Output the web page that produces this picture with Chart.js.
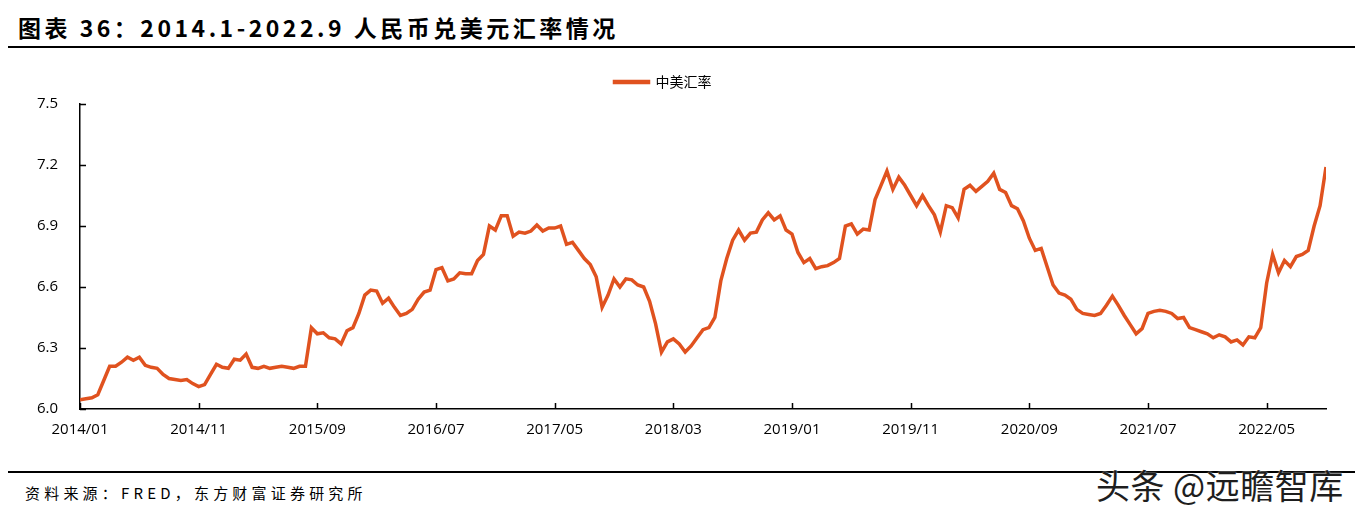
<!DOCTYPE html>
<html>
<head>
<meta charset="utf-8">
<title>人民币兑美元汇率</title>
<script src="https://cdn.jsdelivr.net/npm/chart.js@4.4.1/dist/chart.umd.min.js"></script>
<style>
  body { margin: 0; background: #fff; }
  #page { position: relative; width: 1363px; height: 515px; overflow: hidden; background: #fff; font-family: "Noto Sans CJK SC", sans-serif; color: #000; }
  #title { position: absolute; left: 18px; top: 10px; font-size: 23px; font-weight: bold; letter-spacing: 3.5px; white-space: nowrap; }
  .rule { position: absolute; left: 8px; width: 1347px; height: 2px; background: #000; }
  #box { position: absolute; left: 0; top: 65px; width: 1363px; height: 395px; }
  #source { position: absolute; left: 25px; top: 482px; font-size: 15px; letter-spacing: 4.2px; white-space: nowrap; }
  #mark { position: absolute; left: 1096px; top: 460px; font-size: 34px; letter-spacing: 0.5px; color: #1e1e1e; white-space: nowrap; text-shadow: 0 0 2px #fff; }
</style>
</head>
<body>
<div id="page">
  <div id="title">图表 36：2014.1-2022.9 人民币兑美元汇率情况</div>
  <div class="rule" style="top:46px"></div>
  <div id="box"><canvas id="chart"></canvas></div>
  <div class="rule" style="top:471px"></div>
  <div id="source">资料来源：FRED，东方财富证券研究所</div>
  <div id="mark">头条 @远瞻智库</div>
</div>
<script>
// half-month readings, 2014/01 .. 2022/09
const rate2014 = [6.045, 6.05, 6.055, 6.07, 6.14, 6.21, 6.21, 6.23, 6.255, 6.24, 6.255, 6.215,
  6.205, 6.20, 6.17, 6.15, 6.145, 6.14, 6.145, 6.125, 6.11, 6.12, 6.17, 6.22];
const rate2015 = [6.205, 6.20, 6.245, 6.24, 6.27, 6.205, 6.20, 6.21, 6.20, 6.205, 6.21, 6.205,
  6.20, 6.21, 6.21, 6.40, 6.37, 6.375, 6.35, 6.345, 6.32, 6.385, 6.40, 6.47];
const rate2016 = [6.56, 6.585, 6.58, 6.52, 6.545, 6.50, 6.46, 6.47, 6.49, 6.54, 6.575, 6.585,
  6.685, 6.695, 6.63, 6.64, 6.67, 6.665, 6.665, 6.73, 6.76, 6.90, 6.88, 6.95];
const rate2017 = [6.95, 6.85, 6.87, 6.865, 6.875, 6.905, 6.875, 6.89, 6.89, 6.90, 6.81, 6.82,
  6.78, 6.74, 6.71, 6.65, 6.50, 6.56, 6.64, 6.60, 6.64, 6.635, 6.61, 6.60];
const rate2018 = [6.53, 6.42, 6.28, 6.33, 6.345, 6.32, 6.28, 6.31, 6.35, 6.39, 6.40, 6.45,
  6.63, 6.74, 6.83, 6.88, 6.83, 6.865, 6.87, 6.93, 6.965, 6.93, 6.95, 6.88];
const rate2019 = [6.86, 6.77, 6.72, 6.74, 6.69, 6.70, 6.705, 6.72, 6.74, 6.90, 6.91, 6.86,
  6.885, 6.88, 7.03, 7.10, 7.17, 7.08, 7.14, 7.10, 7.05, 7.00, 7.05, 7.00];
const rate2020 = [6.955, 6.87, 7.00, 6.99, 6.94, 7.08, 7.10, 7.07, 7.095, 7.12, 7.16, 7.08,
  7.065, 7.00, 6.985, 6.925, 6.84, 6.78, 6.79, 6.70, 6.61, 6.57, 6.56, 6.54];
const rate2021 = [6.49, 6.47, 6.465, 6.46, 6.47, 6.51, 6.555, 6.51, 6.46, 6.415, 6.37, 6.395,
  6.47, 6.48, 6.485, 6.48, 6.47, 6.445, 6.45, 6.40, 6.39, 6.38, 6.37, 6.35];
const rate2022 = [6.365, 6.355, 6.33, 6.34, 6.315, 6.355, 6.35, 6.40, 6.62, 6.76,
  6.67, 6.73, 6.70, 6.75, 6.76, 6.78, 6.90, 7.00, 7.19];

const rate = [].concat(rate2014, rate2015, rate2016, rate2017, rate2018, rate2019, rate2020, rate2021, rate2022);
const tickLabels = ['2014/01', '2014/11', '2015/09', '2016/07', '2017/05', '2018/03', '2019/01', '2019/11', '2020/09', '2021/07', '2022/05'];
const yTicks = [6.0, 6.3, 6.6, 6.9, 7.2, 7.5];

// x = months since 2014/01, two readings per month
const points = rate.map((v, i) => ({ x: i / 2, y: v }));

const lineColor = '#E0521F';
const axisFont = { family: '"Open Sans", "Noto Sans", sans-serif', size: 15 };

// excel style ticks pointing into the plot
const innerTicks = {
  id: 'innerTicks',
  afterDraw(chart) {
    const { ctx, chartArea, scales: { x, y } } = chart;
    ctx.save();
    ctx.strokeStyle = '#000';
    ctx.lineWidth = 1.5;
    ctx.beginPath();
    x.ticks.forEach(t => {
      const px = Math.round(x.getPixelForValue(t.value)) + 0.5;
      ctx.moveTo(px, chartArea.bottom);
      ctx.lineTo(px, chartArea.bottom - 6);
    });
    y.ticks.forEach(t => {
      const py = Math.round(y.getPixelForValue(t.value)) + 0.5;
      ctx.moveTo(chartArea.left, py);
      ctx.lineTo(chartArea.left + 6, py);
    });
    ctx.stroke();
    ctx.restore();
  }
};

// a bit more room under the legend
const legendGap = {
  id: 'legendGap',
  beforeInit(chart) {
    const fit = chart.legend.fit;
    chart.legend.fit = function () {
      fit.bind(chart.legend)();
      this.height += 5;
    };
  }
};

const chart = document.querySelector('#chart').getContext('2d');

new Chart(chart, {
  type: 'line',
  data: {
    datasets: [{
      label: '中美汇率',
      data: points,
      borderColor: lineColor,
      backgroundColor: lineColor,
      borderWidth: 3.5,
      pointRadius: 0,
      tension: 0
    }]
  },
  options: {
    responsive: true,
    maintainAspectRatio: false,
    animation: false,
    layout: { padding: { left: 0, right: 37, top: 0, bottom: 0 } },
    plugins: {
      legend: {
        position: 'top',
        labels: {
          boxWidth: 34,
          boxHeight: 1,
          color: '#000',
          padding: 10,
          font: { family: '"Noto Sans CJK SC", sans-serif', size: 14 }
        }
      },
      tooltip: { enabled: false }
    },
    scales: {
      x: {
        type: 'linear',
        min: 0,
        max: 105,
        afterBuildTicks: s => { s.ticks = tickLabels.map((_, i) => ({ value: i * 10 })); },
        afterFit: s => { s.height = 51; },
        ticks: {
          callback: v => tickLabels[Math.round(v / 10)],
          color: '#000',
          font: axisFont,
          padding: 12,
          maxRotation: 0,
          autoSkip: false
        },
        grid: { display: false, drawTicks: false, tickLength: 0 },
        border: { color: '#000', width: 1.5 }
      },
      y: {
        min: 6.0,
        max: 7.5,
        afterBuildTicks: s => { s.ticks = yTicks.map(v => ({ value: v })); },
        afterFit: s => { s.width = 80; },
        ticks: {
          callback: v => v.toFixed(1),
          color: '#000',
          font: axisFont,
          padding: 22
        },
        grid: { display: false, drawTicks: false, tickLength: 0 },
        border: { color: '#000', width: 1.5 }
      }
    }
  },
  plugins: [innerTicks, legendGap]
});
</script>
</body>
</html>
